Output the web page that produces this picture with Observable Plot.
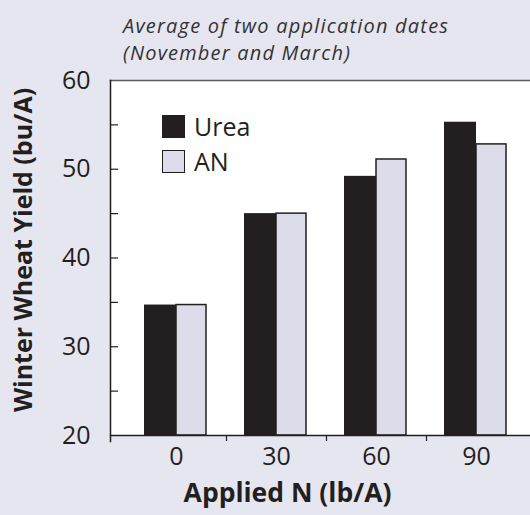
<!DOCTYPE html>
<html>
<head>
<meta charset="utf-8">
<script src="https://cdn.jsdelivr.net/npm/d3@7"></script>
<script src="https://cdn.jsdelivr.net/npm/@observablehq/plot@0.6"></script>
<style>
  html, body { margin: 0; padding: 0; background: #e6e6f0; }
  #wrap { position: relative; width: 530px; height: 515px; overflow: hidden; font-family: "Open Sans", Lato, sans-serif; color: #231f20; }
  .sub { position: absolute; left: 123px; font-style: italic; font-size: 20px; line-height: 27px; letter-spacing: 1.2px; color: #333; white-space: nowrap; }
  #legend { position: absolute; left: 162px; top: 115px; font-size: 25px; line-height: 23px; }
  .item { display: flex; align-items: center; height: 23px; margin-bottom: 12px; }
  .sw { width: 23px; height: 23px; box-sizing: border-box; margin-right: 9px; }
  svg { display: block; }
</style>
</head>
<body>
<div id="wrap">
  <div id="chart"></div>
  <div class="sub" style="top:12px">Average of two application dates</div>
  <div class="sub" style="top:39px">(November and March)</div>
  <div id="legend"></div>
</div>
<script>
// ---- data ----
const nRates = ["0", "30", "60", "90"];
const series = ["Urea", "AN"];
const ureaYield = [34.7, 45.0, 49.2, 55.3];
const anYield = [34.7, 45.0, 51.1, 52.8];
const yTicks = [20, 30, 40, 50, 60];
const yMinorTicks = [25, 30, 35, 40, 45, 50, 55];
const xBoundaryTicks = ["30", "60", "90"];
const yTitle = "Winter Wheat Yield (bu/A)";
const xTitle = "Applied N (lb/A)";

const colors = { Urea: "#231f20", AN: "#dcdcea" };
const ink = "#231f20";
const font = "'Open Sans', Lato, sans-serif";

const ureaRows = nRates.map((n, i) => ({ n, v: ureaYield[i] }));
const anRows = nRates.map((n, i) => ({ n, v: anYield[i] }));
const base = yTicks[0];

const chart = Plot.plot({
  width: 530,
  height: 515,
  marginTop: 80,
  marginBottom: 80,
  marginLeft: 110,
  marginRight: 0,
  style: { background: "transparent", fontFamily: font, color: ink },
  x: { type: "band", domain: nRates, range: [126, 526], padding: 0 },
  y: { domain: [20, 60] },
  marks: [
    Plot.frame({ fill: "white", stroke: null }),
    Plot.barY(ureaRows, { x: "n", y1: base, y2: "v", fill: colors.Urea, insetLeft: 18, insetRight: 50 }),
    Plot.barY(anRows, { x: "n", y1: base, y2: "v", fill: colors.AN, stroke: ink, strokeWidth: 1.5, insetLeft: 50, insetRight: 20 }),
    Plot.frame({ anchor: "top", stroke: "#5a5a5a", strokeWidth: 1.5 }),
    Plot.frame({ anchor: "bottom", stroke: ink, strokeWidth: 1.5 }),
    Plot.frame({ anchor: "left", stroke: ink, strokeWidth: 1.5, insetBottom: -6 }),
    Plot.axisY({ ticks: yTicks, tickSize: 0, tickPadding: 20, fontSize: 25, label: null, fill: ink }),
    Plot.axisY({ ticks: yMinorTicks, tickSize: 8, dx: 8, text: null, label: null, stroke: ink, strokeWidth: 1.2 }),
    Plot.axisX({ tickSize: 0, tickPadding: 12, fontSize: 25, label: null, fill: ink }),
    Plot.axisX({ ticks: xBoundaryTicks, tickSize: 6, dx: -50, text: null, label: null, stroke: ink, strokeWidth: 1.2 }),
    Plot.text([yTitle], { frameAnchor: "left", textAnchor: "middle", rotate: -90, dx: -87, dy: -8, fontSize: 25, fontWeight: "bold", fill: ink }),
    Plot.text([xTitle], { frameAnchor: "bottom", textAnchor: "middle", dx: -33, dy: 66, fontSize: 26.5, fontWeight: "bold", fill: ink })
  ]
});
document.getElementById("chart").appendChild(chart);

// legend
const legend = document.getElementById("legend");
series.forEach(s => {
  const item = document.createElement("div");
  item.className = "item";
  const sw = document.createElement("div");
  sw.className = "sw";
  sw.style.background = colors[s];
  if (s === "AN") sw.style.border = "1.5px solid " + ink;
  const label = document.createElement("span");
  label.textContent = s;
  item.appendChild(sw);
  item.appendChild(label);
  legend.appendChild(item);
});
</script>
</body>
</html>
